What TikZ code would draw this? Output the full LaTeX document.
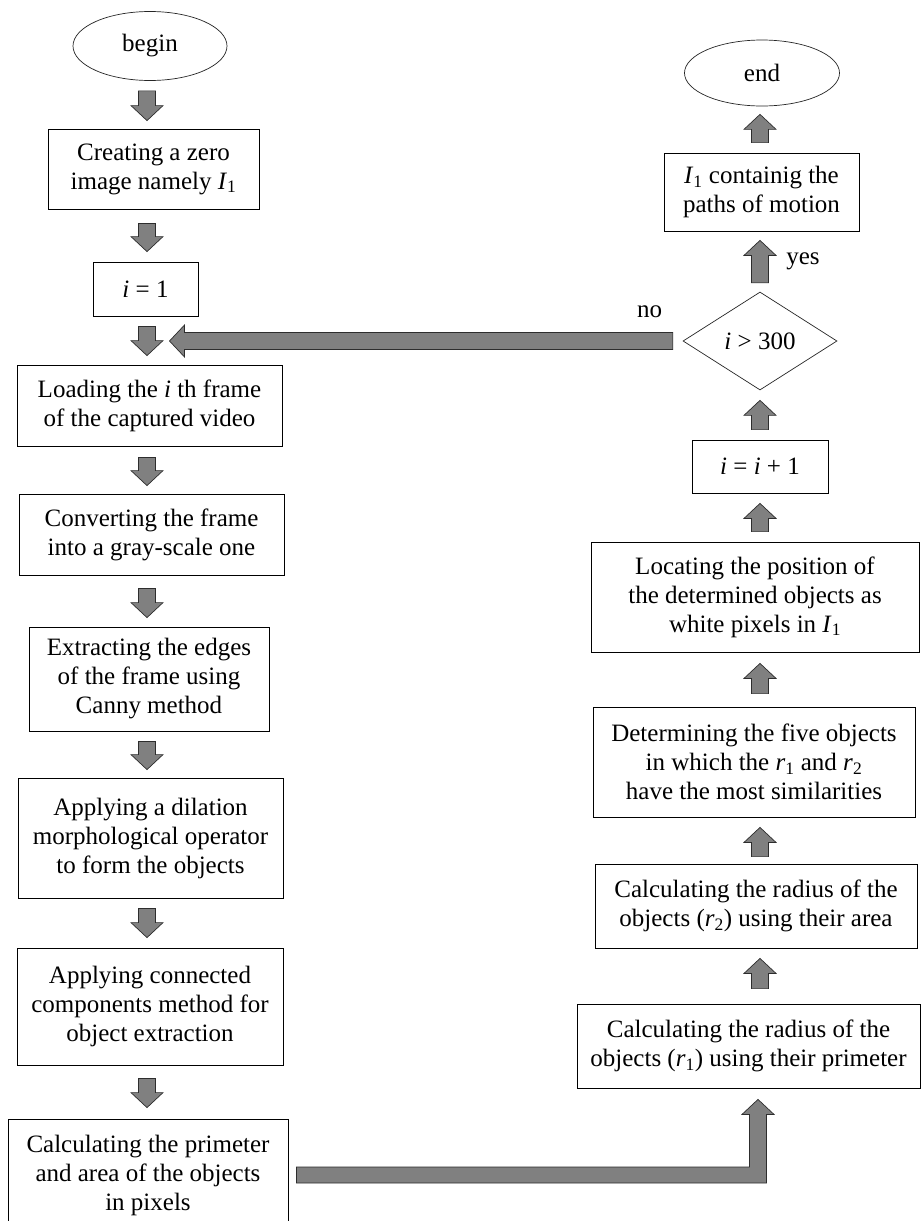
\documentclass[tikz,border=0pt]{standalone}
\usepackage{fontspec}
\setmainfont{Liberation Serif}
\usetikzlibrary{shapes.geometric,calc}
\definecolor{arrowfill}{RGB}{128,128,128}
\definecolor{arrowline}{RGB}{45,45,45}
\tikzset{
  txt/.style={font=\fontsize{25}{29}\selectfont},
  box/.style={txt, draw=black, line width=0.8pt, rectangle, align=center, inner sep=0pt},
  oval/.style={txt, draw=black!85, line width=0.7pt, ellipse, inner sep=0pt},
  decision/.style={txt, draw=black!85, line width=0.7pt, diamond, inner sep=0pt},
  lbl/.style={txt, inner sep=0pt},
  blkarrow/.style={draw=arrowline, fill=arrowfill, line width=0.7pt, line join=miter},
}
% block arrow from coordinate #1 (tail) to coordinate #2 (tip)
\newcommand\blockarrow[2]{%
  \coordinate (ba-h) at ($(#2)!15pt!(#1)$);
  \path[blkarrow] ($(#1)!8.5pt!90:(#2)$) -- ($(ba-h)!8.5pt!-90:(#1)$)
    -- ($(ba-h)!16pt!-90:(#1)$) -- (#2) -- ($(ba-h)!16pt!90:(#1)$)
    -- ($(ba-h)!8.5pt!90:(#1)$) -- ($(#1)!8.5pt!-90:(#2)$) -- cycle;}
\begin{document}
\begin{tikzpicture}[x={(1pt,0pt)}, y={(0pt,-1pt)}]
\useasboundingbox (0,0) rectangle (922,1221);
\fill[white] (0,0) rectangle (922,1221);

\coordinate (colL) at (147,0);
\coordinate (colR) at (760,0);

% left column
\node[oval, minimum width=154pt, minimum height=69pt] (begin) at (150,46) {begin};
\node[box, minimum width=211pt, minimum height=80pt] (zero) at (153.5,169)
  {Creating a zero\\image namely \textit{I}\textsubscript{1}};
\node[box, minimum width=105pt, minimum height=54pt] (ione) at (145.5,289) {\textit{i} = 1};
\node[box, minimum width=265pt, minimum height=81pt] (load) at (149.5,405.5)
  {Loading the \textit{i} th frame\\of the captured video};
\node[box, minimum width=265pt, minimum height=81pt] (conv) at (151.5,534.5)
  {Converting the frame\\into a gray-scale one};
\node[box, minimum width=240pt, minimum height=104pt] (extr) at (149,679)
  {Extracting the edges\\of the frame using\\Canny method};
\node[box, minimum width=265pt, minimum height=120pt] (dil) at (150.5,838)
  {Applying a dilation\\morphological operator\\to form the objects};
\node[box, minimum width=266pt, minimum height=117pt] (conn) at (150,1006.5)
  {Applying connected\\components method for\\object extraction};
\node[box, minimum width=280pt, minimum height=112pt] (calc) at (148,1175)
  {Calculating the primeter\\and area of the objects\\in pixels};

% right column
\node[oval, minimum width=155pt, minimum height=66pt] (end) at (762,73) {end};
\node[box, minimum width=195pt, minimum height=78pt] (paths) at (761.5,192)
  {\textit{I}\textsubscript{1} containig the\\paths of motion};
\node[decision, minimum width=154pt, minimum height=98pt] (dia) at (760,341) {\textit{i} > 300};
\node[box, minimum width=136pt, minimum height=53pt] (inc) at (760,466.5) {\textit{i} = \textit{i} + 1};
\node[box, minimum width=328pt, minimum height=110pt] (loc) at (755,597)
  {Locating the position of\\the determined objects as\\white pixels in \textit{I}\textsubscript{1}};
\node[box, minimum width=322pt, minimum height=110pt] (det) at (754,762)
  {Determining the five objects\\in which the \textit{r}\textsubscript{1} and \textit{r}\textsubscript{2}\\have the most similarities};
\node[box, minimum width=322pt, minimum height=84pt] (rtwo) at (756,906)
  {Calculating the radius of the\\objects (\textit{r}\textsubscript{2}) using their area};
\node[box, minimum width=343pt, minimum height=84pt] (rone) at (748.5,1046)
  {Calculating the radius of the\\objects (\textit{r}\textsubscript{1}) using their primeter};

% labels
\node[lbl] (no) at ($(dia.west)+(-33,-29)$) {no};
\node[lbl] (yes) at ($(dia.north)+(43,-30)$) {yes};

% left column arrows (downwards)
\coordinate (a1s) at ($(begin.south -| colL)+(0,10)$);
\coordinate (a1e) at ($(zero.north -| colL)+(0,-8)$);
\blockarrow{a1s}{a1e}
\coordinate (a2s) at ($(zero.south -| colL)+(0,14)$);
\coordinate (a2e) at ($(ione.north -| colL)+(0,-10)$);
\blockarrow{a2s}{a2e}
\coordinate (a3s) at ($(ione.south -| colL)+(0,10)$);
\coordinate (a3e) at ($(load.north -| colL)+(0,-9)$);
\blockarrow{a3s}{a3e}
\coordinate (a4s) at ($(load.south -| colL)+(0,11)$);
\coordinate (a4e) at ($(conv.north -| colL)+(0,-8)$);
\blockarrow{a4s}{a4e}
\coordinate (a5s) at ($(conv.south -| colL)+(0,13)$);
\coordinate (a5e) at ($(extr.north -| colL)+(0,-9)$);
\blockarrow{a5s}{a5e}
\coordinate (a6s) at ($(extr.south -| colL)+(0,10)$);
\coordinate (a6e) at ($(dil.north -| colL)+(0,-8)$);
\blockarrow{a6s}{a6e}
\coordinate (a7s) at ($(dil.south -| colL)+(0,10)$);
\coordinate (a7e) at ($(conn.north -| colL)+(0,-10)$);
\blockarrow{a7s}{a7e}
\coordinate (a8s) at ($(conn.south -| colL)+(0,13)$);
\coordinate (a8e) at ($(calc.north -| colL)+(0,-11)$);
\blockarrow{a8s}{a8e}

% right column arrows (upwards)
\coordinate (b1s) at ($(rone.north -| colR)+(0,-15)$);
\coordinate (b1e) at ($(rtwo.south -| colR)+(0,10)$);
\blockarrow{b1s}{b1e}
\coordinate (b2s) at ($(rtwo.north -| colR)+(0,-7)$);
\coordinate (b2e) at ($(det.south -| colR)+(0,10)$);
\blockarrow{b2s}{b2e}
\coordinate (b3s) at ($(det.north -| colR)+(0,-13)$);
\coordinate (b3e) at ($(loc.south -| colR)+(0,11)$);
\blockarrow{b3s}{b3e}
\coordinate (b4s) at ($(loc.north -| colR)+(0,-10)$);
\coordinate (b4e) at ($(inc.south -| colR)+(0,10)$);
\blockarrow{b4s}{b4e}
\coordinate (b5s) at ($(inc.north -| colR)+(0,-10)$);
\coordinate (b5e) at ($(dia.south -| colR)+(0,10)$);
\blockarrow{b5s}{b5e}
\coordinate (b6s) at ($(dia.north -| colR)+(0,-9)$);
\coordinate (b6e) at ($(paths.south -| colR)+(0,9)$);
\blockarrow{b6s}{b6e}
\coordinate (b7s) at ($(paths.north -| colR)+(0,-10)$);
\coordinate (b7e) at ($(end.south -| colR)+(0,8)$);
\blockarrow{b7s}{b7e}

% "no" arrow back to the loop
\coordinate (ns) at ($(dia.west)+(-10,0)$);
\coordinate (ne) at ($(dia.west -| load.north)+(20,0)$);
\blockarrow{ns}{ne}

% elbow arrow from bottom-left box to r1 box
\coordinate (e0) at ($(calc.east)+(8,0)$);
\coordinate (e2) at ($(rone.south -| colR)+(-2,11)$);
\coordinate (e1) at (e0 -| e2);
\path[blkarrow] ($(e0)+(0,-8)$) -- ($(e1)+(-8.5,-8)$) -- ($(e2)+(-8.5,15)$)
  -- ($(e2)+(-16,15)$) -- (e2) -- ($(e2)+(16,15)$) -- ($(e2)+(8.5,15)$)
  -- ($(e1)+(8.5,8)$) -- ($(e0)+(0,8)$) -- cycle;
\end{tikzpicture}
\end{document}
